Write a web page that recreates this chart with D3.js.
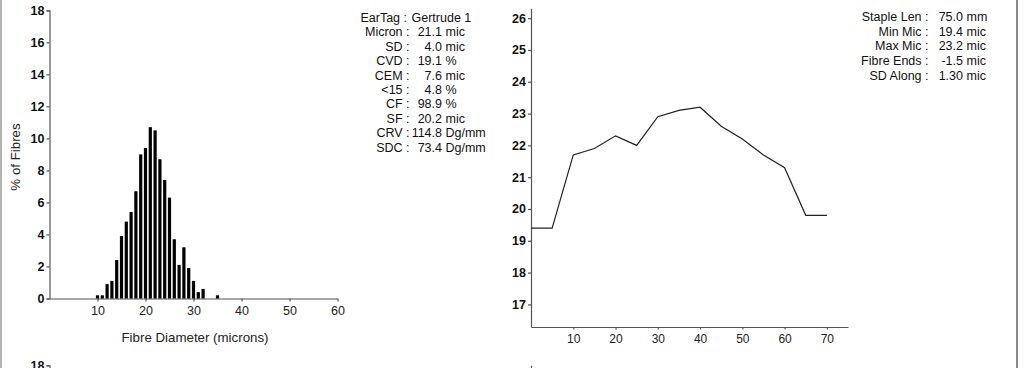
<!DOCTYPE html>
<html><head><meta charset="utf-8">
<script src="https://cdn.jsdelivr.net/npm/d3@7/dist/d3.min.js"></script>
<style>
html,body{margin:0;padding:0;background:#fff;overflow:hidden}
svg{display:block;font-family:"Liberation Sans",Arial,sans-serif}
</style></head><body>
<svg id="c" width="1024" height="368"></svg>
<script>
// ---- data ----
const diameters = [10,11,12,13,14,15,16,17,18,19,20,21,22,23,24,25,26,27,28,29,30,31,32,33,34,35];
const percentFibres = [0.2,0.2,0.9,1.1,2.4,3.9,4.8,5.4,6.7,9.0,9.4,10.7,10.5,8.7,7.4,6.3,3.7,2.1,3.2,1.9,1.1,0.4,0.6,0,0,0.2];
const histXTicks = [10,20,30,40,50,60];
const histYTicks = [0,2,4,6,8,10,12,14,16,18];
const nextPanelYTicks = [18];
const lengthPos = [0,5,10,15,20,25,30,35,40,45,50,55,60,65,70];
const micronAlong = [19.4,19.4,21.7,21.9,22.3,22.0,22.9,23.1,23.2,22.6,22.2,21.7,21.3,19.8,19.8];
const profXTicks = [10,20,30,40,50,60,70];
const profYTicks = [17,18,19,20,21,22,23,24,25,26];
const statLabels = ["Micron :","SD :","CVD :","CEM :","<15 :","CF :","SF :","CRV :","SDC :"];
const statNumbers = ["21.1","4.0","19.1","7.6","4.8","98.9","20.2","114.8","73.4"];
const statUnits = ["mic","mic","%","mic","%","%","mic","Dg/mm","Dg/mm"];
const earTag = ["EarTag :","Gertrude 1"];
const profLabels = ["Staple Len :","Min Mic :","Max Mic :","Fibre Ends :","SD Along :"];
const profNumbers = ["75.0","19.4","23.2","-1.5","1.30"];
const profUnits = ["mm","mic","mic","mic","mic"];

const svg = d3.select("#c");

// frame lines
svg.append("line").attr("x1",1).attr("x2",1).attr("y1",0).attr("y2",368).attr("stroke","#9a9a9a").attr("stroke-width",1.5);
svg.append("line").attr("x1",1017).attr("x2",1017).attr("y1",0).attr("y2",368).attr("stroke","#8a8a8a").attr("stroke-width",2);

// ---- histogram ----
const hx = d3.scaleLinear().domain([0,60]).range([49.5,337.5]);
const hy = d3.scaleLinear().domain([0,18]).range([298.5,10.3]);

function styleAxis(g){
  g.select(".domain").attr("stroke","#555").attr("stroke-width",1.2);
  g.selectAll(".tick line").attr("stroke","#555").attr("stroke-width",1.2);
}

function histYAxis(offset, ticks){
  const g = svg.append("g").attr("transform",`translate(${hx(0)},${offset})`)
    .call(d3.axisLeft(hy).tickValues(ticks).tickSize(3).tickSizeOuter(3).tickPadding(2));
  styleAxis(g);
  g.selectAll("text").attr("font-size",12.5).attr("font-weight","bold").attr("fill","#111")
    .attr("font-family","Liberation Sans, Arial, sans-serif");
}
histYAxis(0, histYTicks);
histYAxis(355, nextPanelYTicks);

const hxg = svg.append("g").attr("transform",`translate(0,${hy(0)})`)
  .call(d3.axisBottom(hx).tickValues(histXTicks).tickSize(3).tickSizeOuter(0).tickPadding(5));
styleAxis(hxg);
hxg.selectAll("text").attr("font-size",12.5).attr("fill","#222").attr("font-family","Liberation Sans, Arial, sans-serif");

const bw = 3.2;
svg.append("g").selectAll("rect").data(diameters.map((d,i)=>({d,v:percentFibres[i]})).filter(o=>o.v>0))
  .join("rect")
  .attr("x",o=>hx(o.d)-bw/2).attr("width",bw)
  .attr("y",o=>hy(o.v)).attr("height",o=>hy(0)-hy(o.v))
  .attr("fill","#000");

svg.append("text").attr("x",195).attr("y",341.5).attr("text-anchor","middle")
  .attr("font-size",13.3).attr("fill","#222").text("Fibre Diameter (microns)");
svg.append("text").attr("transform","translate(19.5,157) rotate(-90)").attr("text-anchor","middle")
  .attr("font-size",13.3).attr("fill","#222").text("% of Fibres");

// ---- stats block left ----
const fs = 12.5, lh = 14.45;
const sb = svg.append("g").attr("font-size",fs).attr("fill","#111");
sb.append("text").attr("x",407).attr("y",21.7).attr("text-anchor","end").text(earTag[0]);
sb.append("text").attr("x",411.5).attr("y",21.7).text(earTag[1]);
statLabels.forEach((l,i)=>{
  const y = 21.7 + lh*(i+1);
  sb.append("text").attr("x",409.5).attr("y",y).attr("text-anchor","end").text(l);
  sb.append("text").attr("x",442).attr("y",y).attr("text-anchor","end").text(statNumbers[i]);
  sb.append("text").attr("x",445.5).attr("y",y).text(statUnits[i]);
});

// ---- profile chart ----
const px = d3.scaleLinear().domain([0,75]).range([531,848]);
const py = d3.scaleLinear().domain([16.29,26.31]).range([327,8.3]);

function profYAxis(offset, ticks){
  const g = svg.append("g").attr("transform",`translate(${px(0)},${offset})`)
    .call(d3.axisLeft(py).tickValues(ticks).tickSize(3).tickSizeOuter(0).tickPadding(2));
  styleAxis(g);
  g.selectAll("text").attr("font-size",12.5).attr("font-weight","bold").attr("fill","#111")
    .attr("font-family","Liberation Sans, Arial, sans-serif");
}
profYAxis(0, profYTicks);
profYAxis(357, []);

const pxg = svg.append("g").attr("transform",`translate(0,${py.range()[0]})`)
  .call(d3.axisBottom(px).tickValues(profXTicks).tickSize(2.5).tickSizeOuter(0).tickPadding(5));
styleAxis(pxg);
pxg.selectAll("text").attr("font-size",12).attr("fill","#222").attr("font-family","Liberation Sans, Arial, sans-serif");

svg.append("path")
  .datum(lengthPos.map((p,i)=>[p,micronAlong[i]]))
  .attr("fill","none").attr("stroke","#222").attr("stroke-width",1.2)
  .attr("d",d3.line().x(d=>px(d[0])).y(d=>py(d[1])));

// ---- stats block right ----
const rb = svg.append("g").attr("font-size",fs).attr("fill","#111");
profLabels.forEach((l,i)=>{
  const y = 20.7 + 14.8*i;
  rb.append("text").attr("x",928.5).attr("y",y).attr("text-anchor","end").text(l);
  rb.append("text").attr("x",963).attr("y",y).attr("text-anchor","end").text(profNumbers[i]);
  rb.append("text").attr("x",966.5).attr("y",y).text(profUnits[i]);
});
</script>
</body></html>
